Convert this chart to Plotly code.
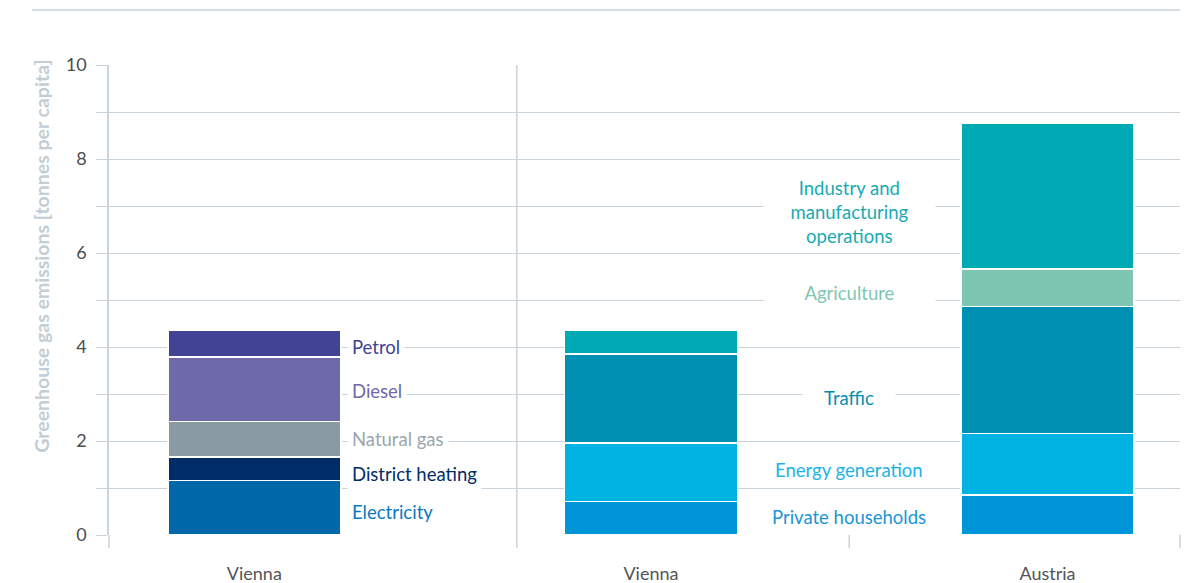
import plotly.graph_objects as go

FONT = 'Lato, "Open Sans", sans-serif'
GRID = '#c9d3db'

# data (tonnes CO2e per capita)
groups = ['Vienna', 'Vienna', 'Austria']
group_pos = [0, 1, 2]

source_labels = ['Electricity', 'District heating', 'Natural gas', 'Diesel', 'Petrol']
vienna_by_source = [1.16, 0.50, 0.76, 1.37, 0.56]

sector_labels = ['Private households', 'Energy generation', 'Traffic',
                 'Agriculture', 'Industry and<br>manufacturing<br>operations']
vienna_by_sector = [0.71, 1.25, 1.89, 0.0, 0.50]
austria_by_sector = [0.85, 1.31, 2.70, 0.80, 3.10]

y_ticks = list(range(0, 11))

# styles
source_colors = ['#0068a8', '#002c68', '#8a9aa3', '#6e6aa9', '#414394']
source_text = ['#0a79c0', '#002c68', '#9aa6ad', '#6e6aa9', '#414394']
sector_colors = ['#0095d8', '#00b3e3', '#0090b3', '#7fc6b2', '#00aab4']
sector_text = ['#1a95d8', '#1ab4e6', '#0090b3', '#7fc6b2', '#18aab4']

# label anchor heights (in axis units)
source_label_y = [0.49, 1.30, 2.04, 3.06, 4.0]
sector_label_y = [0.38, 1.38, 2.91, 5.15, 6.87]
sector_label_w = [None, None, 86, 165, 165]

BAR_W = 0.436
LABEL_SIZE = 18.5

fig = go.Figure()

for name, val, col in zip(source_labels, vienna_by_source, source_colors):
    fig.add_trace(go.Bar(
        x=[group_pos[0]], y=[val], name=name, width=BAR_W,
        marker=dict(color=col, line=dict(color='white', width=1.5)),
    ))

for i, (name, col) in enumerate(zip(sector_labels, sector_colors)):
    fig.add_trace(go.Bar(
        x=group_pos[1:], y=[vienna_by_sector[i], austria_by_sector[i]],
        name=name, width=BAR_W,
        marker=dict(color=col, line=dict(color='white', width=1.5)),
    ))

annotations = []
for name, yy, col in zip(source_labels, source_label_y, source_text):
    annotations.append(dict(
        x=group_pos[0] + BAR_W / 2, y=yy, xref='x', yref='y', text=name,
        showarrow=False, xanchor='left', yanchor='middle', xshift=6,
        font=dict(family=FONT, size=LABEL_SIZE, color=col),
        bgcolor='white', borderpad=4,
    ))

for name, yy, col, w in zip(sector_labels, sector_label_y, sector_text, sector_label_w):
    a = dict(
        x=(group_pos[1] + group_pos[2]) / 2, y=yy, xref='x', yref='y', text=name,
        showarrow=False, xanchor='center', yanchor='middle',
        font=dict(family=FONT, size=LABEL_SIZE, color=col),
        bgcolor='white', borderpad=3,
    )
    if w:
        a['width'] = w
    annotations.append(a)

annotations.append(dict(
    x=-0.0626, y=0.594, xref='paper', yref='paper', textangle=-90,
    xanchor='center', yanchor='middle',
    text='Greenhouse gas emissions [tonnes per capita]', showarrow=False,
    font=dict(family=FONT, size=19.5, color='#c3cdd5', weight='bold'),
))

tick_h = -13 / 470
shapes = [
    # top rule
    dict(type='line', xref='paper', yref='paper', x0=-0.072, x1=1, y0=1.117, y1=1.117,
         line=dict(color=GRID, width=1.5)),
    # axis line extension and category ticks
    dict(type='line', xref='paper', yref='paper', x0=0, x1=0, y0=tick_h, y1=0,
         line=dict(color=GRID, width=1.5)),
    dict(type='line', xref='x', yref='paper', x0=0.662, x1=0.662, y0=tick_h, y1=1,
         line=dict(color=GRID, width=1.5)),
    dict(type='line', xref='x', yref='paper', x0=1.5, x1=1.5, y0=tick_h, y1=0,
         line=dict(color=GRID, width=1.5)),
    dict(type='line', xref='paper', yref='paper', x0=1, x1=1, y0=tick_h, y1=0,
         line=dict(color=GRID, width=1.5)),
]

# the page body adds an 8px offset, so the figure is sized to compensate
fig.update_layout(
    barmode='stack',
    width=1186, height=575,
    margin=dict(l=101, r=14, t=57, b=48),
    plot_bgcolor='white', paper_bgcolor='white',
    showlegend=False,
    font=dict(family=FONT, size=18, color='#4d4d4d'),
    annotations=annotations,
    shapes=shapes,
    xaxis=dict(
        range=[-0.3664, 2.334], tickvals=group_pos, ticktext=groups,
        showgrid=False, zeroline=False, showline=False, ticks='',
        tickfont=dict(size=18, color='#555555'), ticklabelstandoff=26,
        automargin=False,
    ),
    yaxis=dict(
        range=[0, 10], tickvals=y_ticks,
        ticktext=[str(v) if v % 2 == 0 else '' for v in y_ticks],
        showgrid=True, gridcolor=GRID, gridwidth=1, zeroline=False,
        showline=True, linecolor=GRID, linewidth=1.5,
        ticks='outside', ticklen=11, tickcolor=GRID, tickwidth=1,
        tickfont=dict(size=18, color='#4d4d4d'), ticklabelstandoff=6,
        automargin=False,
    ),
)

fig.write_html('out.html')
